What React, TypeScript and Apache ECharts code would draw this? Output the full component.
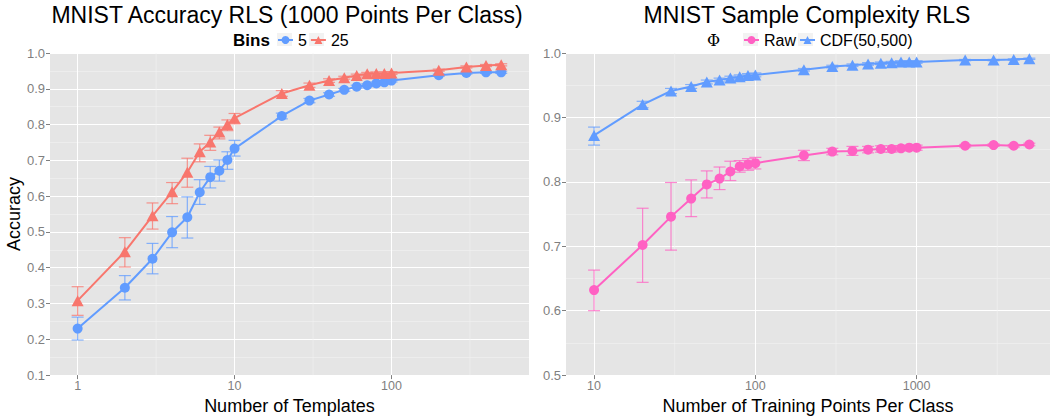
import React, { useEffect, useRef } from "react";
import * as echarts from "echarts";

const FONT = '"Liberation Sans", Arial, Helvetica, sans-serif';

// ---------- Left panel data ----------
const templates = [1, 2, 3, 4, 5, 6, 7, 8, 9, 10, 20, 30, 40, 50, 60, 70, 80, 90, 100, 200, 300, 400, 500];
const bins5Mean = [0.230, 0.344, 0.425, 0.499, 0.541, 0.611, 0.653, 0.671, 0.701, 0.733, 0.824, 0.867, 0.884, 0.897, 0.906, 0.910, 0.915, 0.918, 0.923, 0.938, 0.944, 0.946, 0.946];
const bins5Lo = [0.198, 0.310, 0.383, 0.456, 0.483, 0.577, 0.623, 0.642, 0.675, 0.712, 0.816, 0.861, 0.879, 0.893, 0.902, 0.906, 0.911, 0.914, 0.919, 0.935, 0.941, 0.943, 0.943];
const bins5Hi = [0.262, 0.378, 0.468, 0.543, 0.598, 0.646, 0.683, 0.701, 0.724, 0.756, 0.832, 0.873, 0.889, 0.901, 0.910, 0.914, 0.919, 0.922, 0.927, 0.941, 0.947, 0.949, 0.949];
const bins25Mean = [0.308, 0.445, 0.545, 0.612, 0.667, 0.724, 0.751, 0.779, 0.800, 0.818, 0.887, 0.910, 0.923, 0.931, 0.937, 0.942, 0.943, 0.943, 0.944, 0.952, 0.961, 0.965, 0.967];
const bins25Lo = [0.267, 0.402, 0.508, 0.579, 0.625, 0.696, 0.728, 0.760, 0.783, 0.802, 0.879, 0.904, 0.918, 0.927, 0.933, 0.938, 0.939, 0.939, 0.940, 0.949, 0.958, 0.962, 0.964];
const bins25Hi = [0.347, 0.484, 0.581, 0.638, 0.706, 0.746, 0.770, 0.793, 0.813, 0.831, 0.895, 0.916, 0.928, 0.935, 0.941, 0.946, 0.947, 0.947, 0.948, 0.955, 0.964, 0.968, 0.970];

// ---------- Right panel data ----------
const trainPts = [10, 20, 30, 40, 50, 60, 70, 80, 90, 100, 200, 300, 400, 500, 600, 700, 800, 900, 1000, 2000, 3000, 4000, 5000];
const rawMean = [0.632, 0.702, 0.746, 0.774, 0.796, 0.805, 0.816, 0.824, 0.827, 0.829, 0.841, 0.847, 0.848, 0.850, 0.851, 0.851, 0.852, 0.853, 0.853, 0.856, 0.857, 0.856, 0.858];
const rawLo = [0.600, 0.644, 0.694, 0.746, 0.775, 0.788, 0.802, 0.815, 0.818, 0.820, 0.833, 0.842, 0.841, 0.845, 0.846, 0.846, 0.848, 0.849, 0.849, 0.854, 0.855, 0.854, 0.856];
const rawHi = [0.663, 0.759, 0.799, 0.803, 0.817, 0.823, 0.832, 0.833, 0.836, 0.838, 0.849, 0.852, 0.855, 0.855, 0.856, 0.856, 0.856, 0.857, 0.857, 0.858, 0.859, 0.858, 0.860];
const cdfMean = [0.872, 0.920, 0.941, 0.948, 0.955, 0.958, 0.961, 0.963, 0.965, 0.966, 0.974, 0.979, 0.981, 0.983, 0.984, 0.985, 0.986, 0.986, 0.986, 0.989, 0.989, 0.990, 0.991];
const cdfLo = [0.857, 0.915, 0.937, 0.945, 0.952, 0.955, 0.958, 0.960, 0.962, 0.963, 0.972, 0.977, 0.979, 0.981, 0.982, 0.983, 0.984, 0.984, 0.984, 0.988, 0.988, 0.989, 0.990];
const cdfHi = [0.885, 0.925, 0.945, 0.951, 0.958, 0.961, 0.964, 0.966, 0.968, 0.969, 0.976, 0.981, 0.983, 0.985, 0.986, 0.987, 0.988, 0.988, 0.988, 0.990, 0.990, 0.991, 0.992];

// ---------- Axis breaks ----------
const leftXTicks = [1, 10, 100];
const rightXTicks = [10, 100, 1000];
const leftXMinor = [3.1623, 31.623, 316.23];
const rightXMinor = [31.623, 316.23, 3162.3];

const C_BLUE = "#619CFF";
const C_RED = "#F8766D";
const C_PINK = "#FF61C3";

function pairs(xs: number[], ys: number[]) {
  return xs.map((x, i) => [x, ys[i]]);
}
function triples(xs: number[], lo: number[], hi: number[]) {
  return xs.map((x, i) => [x, lo[i], hi[i]]);
}

function errorSeries(name: string, idx: number, data: number[][], color: string) {
  return {
    type: "custom",
    name,
    xAxisIndex: idx,
    yAxisIndex: idx,
    z: 2,
    data,
    encode: { x: 0, y: [1, 2] },
    renderItem: (params: any, api: any) => {
      const x = api.value(0);
      const pLo = api.coord([x, api.value(1)]);
      const pHi = api.coord([x, api.value(2)]);
      const w = 6;
      const st = { stroke: color, lineWidth: 1.2, opacity: 0.75 };
      return {
        type: "group",
        children: [
          { type: "line", shape: { x1: pLo[0], y1: pLo[1], x2: pHi[0], y2: pHi[1] }, style: st },
          { type: "line", shape: { x1: pLo[0] - w, y1: pLo[1], x2: pLo[0] + w, y2: pLo[1] }, style: st },
          { type: "line", shape: { x1: pHi[0] - w, y1: pHi[1], x2: pHi[0] + w, y2: pHi[1] }, style: st },
        ],
      };
    },
  };
}

function minorXSeries(idx: number, xs: number[], yMin: number, yMax: number) {
  return {
    type: "custom",
    name: "minor" + idx,
    xAxisIndex: idx,
    yAxisIndex: idx,
    z: 1,
    silent: true,
    data: xs.map((x) => [x]),
    renderItem: (params: any, api: any) => {
      const x = api.value(0);
      const a = api.coord([x, yMin]);
      const b = api.coord([x, yMax]);
      return {
        type: "line",
        shape: { x1: a[0], y1: a[1], x2: b[0], y2: b[1] },
        style: { stroke: "#F2F2F2", lineWidth: 0.6 },
      };
    },
  };
}

function lineSeries(name: string, idx: number, data: number[][], color: string, symbol: string, size: any) {
  return {
    type: "line",
    name,
    xAxisIndex: idx,
    yAxisIndex: idx,
    z: 3,
    data,
    symbol,
    symbolSize: size,
    showAllSymbol: true,
    itemStyle: { color, opacity: 1 },
    lineStyle: { color, width: 2 },
  };
}

function xAxisCfg(idx: number, min: number, max: number, ticks: number[], name: string) {
  return {
    type: "log",
    logBase: 10,
    gridIndex: idx,
    min,
    max,
    name,
    nameLocation: "middle",
    nameGap: 15,
    nameTextStyle: { color: "#000", fontSize: 18, fontFamily: FONT },
    axisLine: { show: false },
    axisTick: { show: true, length: 4, customValues: ticks, lineStyle: { color: "#7F7F7F" } },
    axisLabel: { show: true, margin: 4, customValues: ticks, color: "#7F7F7F", fontSize: 12.5, fontFamily: FONT, formatter: (v: number) => String(Math.round(v)) },
    splitLine: { show: true, lineStyle: { color: "#FFFFFF", width: 1 } },
  };
}

function yAxisCfg(idx: number, min: number, name: string) {
  return {
    type: "value",
    gridIndex: idx,
    min,
    max: 1.0,
    interval: 0.1,
    name,
    nameLocation: "middle",
    nameGap: 23,
    nameTextStyle: { color: "#000", fontSize: 18, fontFamily: FONT },
    axisLine: { show: false },
    axisTick: { show: true, length: 4, lineStyle: { color: "#7F7F7F" } },
    axisLabel: { margin: 5, color: "#7F7F7F", fontSize: 13, fontFamily: FONT, formatter: (v: number) => v.toFixed(1) },
    splitLine: { show: true, lineStyle: { color: "#FFFFFF", width: 1 } },
    minorTick: { show: false, splitNumber: 2 },
    minorSplitLine: { show: true, lineStyle: { color: "#F2F2F2", width: 0.6 } },
  };
}

export default function App() {
  const ref = useRef<HTMLDivElement>(null);

  useEffect(() => {
    if (!ref.current) return;
    const chart = echarts.init(ref.current, null, { renderer: "svg" });
    const titleStyle = { fontSize: 23, fontWeight: "normal", color: "#000", fontFamily: FONT };
    const legendText = { fontSize: 16, color: "#000", fontFamily: FONT };
    chart.setOption({
      animation: false,
      backgroundColor: "#FFFFFF",
      title: [
        { text: "MNIST Accuracy RLS (1000 Points Per Class)", left: 287, top: 3, textAlign: "center", padding: 0, textStyle: titleStyle },
        { text: "MNIST Sample Complexity RLS", left: 807, top: 3, textAlign: "center", padding: 0, textStyle: titleStyle },
      ],
      legend: [
        { data: ["5", "25"], left: 277, top: 32, itemWidth: 15, itemHeight: 10, itemGap: 3, padding: 0, selectedMode: false, textStyle: legendText },
        { data: ["Raw", "CDF(50,500)"], left: 743, top: 32, itemWidth: 15, itemHeight: 10, itemGap: 3, padding: 0, selectedMode: false, textStyle: legendText },
      ],
      graphic: [
        { type: "rect", shape: { x: 277, y: 33, width: 15, height: 13 }, style: { fill: "#F2F2F2" }, z: 0 },
        { type: "rect", shape: { x: 309, y: 33, width: 15, height: 13 }, style: { fill: "#F2F2F2" }, z: 0 },
        { type: "rect", shape: { x: 743, y: 33, width: 15, height: 13 }, style: { fill: "#F2F2F2" }, z: 0 },
        { type: "rect", shape: { x: 798, y: 33, width: 15, height: 13 }, style: { fill: "#F2F2F2" }, z: 0 },
        { type: "text", x: 233, y: 40, style: { text: "Bins", fontSize: 17, fontWeight: "bold", fill: "#000", fontFamily: FONT, textAlign: "left", textVerticalAlign: "middle" } },
        { type: "text", x: 713.5, y: 40, style: { text: "Φ", fontSize: 16, fill: "#000", fontFamily: '"DejaVu Serif", "Liberation Serif", serif', textAlign: "center", textVerticalAlign: "middle" } },
      ],
      grid: [
        { left: 50, top: 53, width: 479, height: 328, show: true, backgroundColor: "#E5E5E5", borderWidth: 0 },
        { left: 566, top: 53, right: 0, height: 328, show: true, backgroundColor: "#E5E5E5", borderWidth: 0 },
      ],
      xAxis: [
        xAxisCfg(0, Math.pow(10, -0.176), Math.pow(10, 2.876), leftXTicks, "Number of Templates"),
        xAxisCfg(1, Math.pow(10, 0.826), Math.pow(10, 3.827), rightXTicks, "Number of Training Points Per Class"),
      ],
      yAxis: [yAxisCfg(0, 0.1, "Accuracy"), yAxisCfg(1, 0.5, "")],
      series: [
        minorXSeries(0, leftXMinor, 0.1, 1.0),
        minorXSeries(1, rightXMinor, 0.5, 1.0),
        errorSeries("err5", 0, triples(templates, bins5Lo, bins5Hi), C_BLUE),
        errorSeries("err25", 0, triples(templates, bins25Lo, bins25Hi), C_RED),
        lineSeries("5", 0, pairs(templates, bins5Mean), C_BLUE, "circle", 10),
        lineSeries("25", 0, pairs(templates, bins25Mean), C_RED, "triangle", [12, 11]),
        errorSeries("errRaw", 1, triples(trainPts, rawLo, rawHi), C_PINK),
        errorSeries("errCdf", 1, triples(trainPts, cdfLo, cdfHi), C_BLUE),
        lineSeries("Raw", 1, pairs(trainPts, rawMean), C_PINK, "circle", 10),
        lineSeries("CDF(50,500)", 1, pairs(trainPts, cdfMean), C_BLUE, "triangle", [12, 11]),
      ],
    });
    return () => chart.dispose();
  }, []);

  return <div ref={ref} style={{ position: "absolute", left: 0, top: 0, width: 1050, height: 420 }} />;
}
